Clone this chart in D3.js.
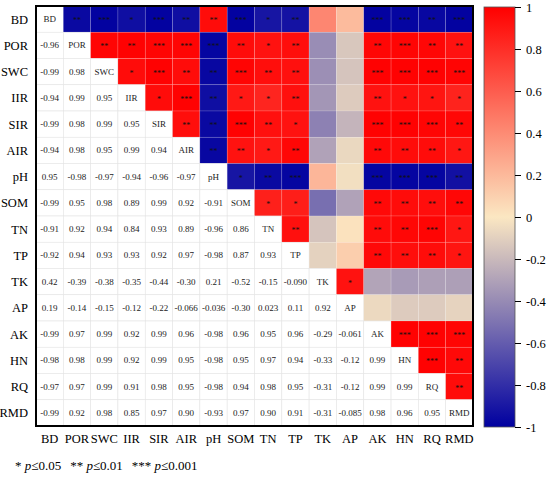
<!DOCTYPE html>
<html>
<head>
<meta charset="UTF-8">
<script src="https://d3js.org/d3.v7.min.js"></script>
<style>
  body { margin: 0; background: #fff; }
  text { font-family: "Liberation Serif", "Times New Roman", serif; }
</style>
</head>
<body>
<svg id="chart" width="550" height="482"></svg>
<script>
// variables, in matrix order
const vars = ["BD", "POR", "SWC", "IIR", "SIR", "AIR", "pH", "SOM", "TN", "TP", "TK", "AP", "AK", "HN", "RQ", "RMD"];

// lower triangle: row i holds r(i, j) for j < i
const lower = [
  [],
  [-0.96],
  [-0.99, 0.98],
  [-0.94, 0.99, 0.95],
  [-0.99, 0.98, 0.99, 0.95],
  [-0.94, 0.98, 0.95, 0.99, 0.94],
  [0.95, -0.98, -0.97, -0.94, -0.96, -0.97],
  [-0.99, 0.95, 0.98, 0.89, 0.99, 0.92, -0.91],
  [-0.91, 0.92, 0.94, 0.84, 0.93, 0.89, -0.96, 0.86],
  [-0.92, 0.94, 0.93, 0.93, 0.92, 0.97, -0.98, 0.87, 0.93],
  [0.42, -0.39, -0.38, -0.35, -0.44, -0.30, 0.21, -0.52, -0.15, -0.090],
  [0.19, -0.14, -0.15, -0.12, -0.22, -0.066, -0.036, -0.30, 0.023, 0.11, 0.92],
  [-0.99, 0.97, 0.99, 0.92, 0.99, 0.96, -0.98, 0.96, 0.95, 0.96, -0.29, -0.061],
  [-0.98, 0.98, 0.99, 0.92, 0.99, 0.95, -0.98, 0.95, 0.97, 0.94, -0.33, -0.12, 0.99],
  [-0.97, 0.97, 0.99, 0.91, 0.98, 0.95, -0.98, 0.94, 0.98, 0.95, -0.31, -0.12, 0.99, 0.99],
  [-0.99, 0.92, 0.98, 0.85, 0.97, 0.90, -0.93, 0.97, 0.90, 0.91, -0.31, -0.085, 0.98, 0.96, 0.95]
];

// upper triangle significance: row i holds stars for j > i
const stars = [
  ["**", "***", "*", "***", "**", "**", "***", "*", "**", "", "", "***", "***", "**", "***"],
  ["**", "**", "***", "***", "***", "**", "*", "**", "", "", "**", "***", "**", "**"],
  ["*", "***", "**", "**", "***", "**", "**", "", "", "***", "***", "***", "***"],
  ["*", "***", "**", "*", "*", "**", "", "", "**", "*", "*", "*"],
  ["**", "**", "***", "**", "*", "", "", "***", "***", "***", "**"],
  ["**", "**", "*", "**", "", "", "**", "**", "**", "*"],
  ["*", "**", "***", "", "", "***", "***", "***", "**"],
  ["*", "*", "", "", "**", "**", "**", "**"],
  ["**", "", "", "**", "**", "***", "*"],
  ["", "", "**", "**", "**", "*"],
  ["*", "", "", "", ""],
  ["", "", "", ""],
  ["***", "***", "***"],
  ["***", "**"],
  ["**"],
  []
];

const legendTicks = [1, 0.8, 0.6, 0.4, 0.2, 0, -0.2, -0.4, -0.6, -0.8, -1];
const noteParts = [["*", "0.05"], ["**", "0.01"], ["***", "0.001"]];

const svg = d3.select("#chart");
const fmt = d3.formatLocale({ decimal: ".", thousands: ",", grouping: [3], currency: ["", ""], minus: "-" });
const cellFmt = fmt.format(".2g");

const x = d3.scaleBand().domain(vars).range([36, 473]);
const y = d3.scaleBand().domain(vars).range([6, 426]);

const color = d3.scaleLinear()
  .domain([-1, 0, 1])
  .range(["#0000A0", "#FBE7C2", "#FF0000"]);

// build cells
const cells = [];
vars.forEach((ri, i) => {
  vars.forEach((cj, j) => {
    let r;
    if (i === j) r = 1;
    else if (j < i) r = lower[i][j];
    else r = lower[j][i];
    cells.push({ row: ri, col: cj, i, j, r, star: j > i ? stars[i][j - i - 1] : "" });
  });
});

const g = svg.append("g");

g.selectAll("rect.cell")
  .data(cells)
  .enter().append("rect")
  .attr("class", "cell")
  .attr("x", d => x(d.col))
  .attr("y", d => y(d.row))
  .attr("width", x.bandwidth())
  .attr("height", y.bandwidth())
  .attr("fill", d => d.j > d.i ? color(d.r) : "#fff")
  .attr("stroke", d => d.j > d.i ? "rgba(255,255,255,0.25)" : "#e4e4e4")
  .attr("stroke-width", 0.6);

// values in lower triangle, names on the diagonal
g.selectAll("text.val")
  .data(cells.filter(d => d.j <= d.i))
  .enter().append("text")
  .attr("class", "val")
  .attr("x", d => x(d.col) + x.bandwidth() / 2)
  .attr("y", d => y(d.row) + y.bandwidth() / 2 + 3)
  .attr("text-anchor", "middle")
  .style("font-size", "9px")
  .attr("fill", "#222")
  .text(d => d.i === d.j ? d.row : cellFmt(d.r));

// stars
g.selectAll("text.star")
  .data(cells.filter(d => d.star))
  .enter().append("text")
  .attr("class", "star")
  .attr("x", d => x(d.col) + x.bandwidth() / 2)
  .attr("y", d => y(d.row) + y.bandwidth() / 2 + 4)
  .attr("text-anchor", "middle")
  .style("font-size", "8px")
  .attr("fill", "#111")
  .text(d => d.star);

// frame
svg.append("rect")
  .attr("x", 36).attr("y", 6)
  .attr("width", 437).attr("height", 420)
  .attr("fill", "none")
  .attr("stroke", "#000")
  .attr("stroke-width", 2);

// row labels
svg.selectAll("text.rowlab")
  .data(vars)
  .enter().append("text")
  .attr("x", 28)
  .attr("y", d => y(d) + y.bandwidth() / 2 + 4.5)
  .attr("text-anchor", "end")
  .style("font-size", "12.5px")
  .text(d => d);

// column labels
svg.selectAll("text.collab")
  .data(vars)
  .enter().append("text")
  .attr("x", d => x(d) + x.bandwidth() / 2)
  .attr("y", 443)
  .attr("text-anchor", "middle")
  .style("font-size", "12.5px")
  .text(d => d);

// colour bar
const yLeg = d3.scaleLinear().domain([-1, 1]).range([427, 7]);
const grad = svg.append("defs").append("linearGradient")
  .attr("id", "grad")
  .attr("x1", 0).attr("y1", 1).attr("x2", 0).attr("y2", 0);
d3.range(0, 21).forEach(k => {
  const v = -1 + k * 0.1;
  grad.append("stop").attr("offset", k / 20).attr("stop-color", color(v));
});
svg.append("rect")
  .attr("x", 484).attr("y", 7)
  .attr("width", 31).attr("height", 420)
  .attr("fill", "url(#grad)")
  .attr("stroke", "#555")
  .attr("stroke-width", 0.8);

const legAxis = svg.append("g")
  .attr("transform", "translate(515,0)")
  .call(d3.axisRight(yLeg).tickValues(legendTicks).tickSize(6).tickPadding(5)
    .tickFormat(d => fmt.format("")(+d.toFixed(1))));
legAxis.select(".domain").remove();
legAxis.selectAll("text")
  .style("font-family", "'Liberation Serif', 'Times New Roman', serif")
  .style("font-size", "12.5px")
  .attr("fill", "#000");
legAxis.selectAll("line").attr("stroke", "#000");

// significance note
const note = svg.append("text")
  .attr("x", 15)
  .attr("y", 470)
  .style("font-size", "13px");
noteParts.forEach((p, k) => {
  note.append("tspan").attr("dx", k === 0 ? 0 : 9).text(p[0] + " ");
  note.append("tspan").style("font-style", "italic").text("p");
  note.append("tspan").text("≤" + p[1]);
});
</script>
</body>
</html>
